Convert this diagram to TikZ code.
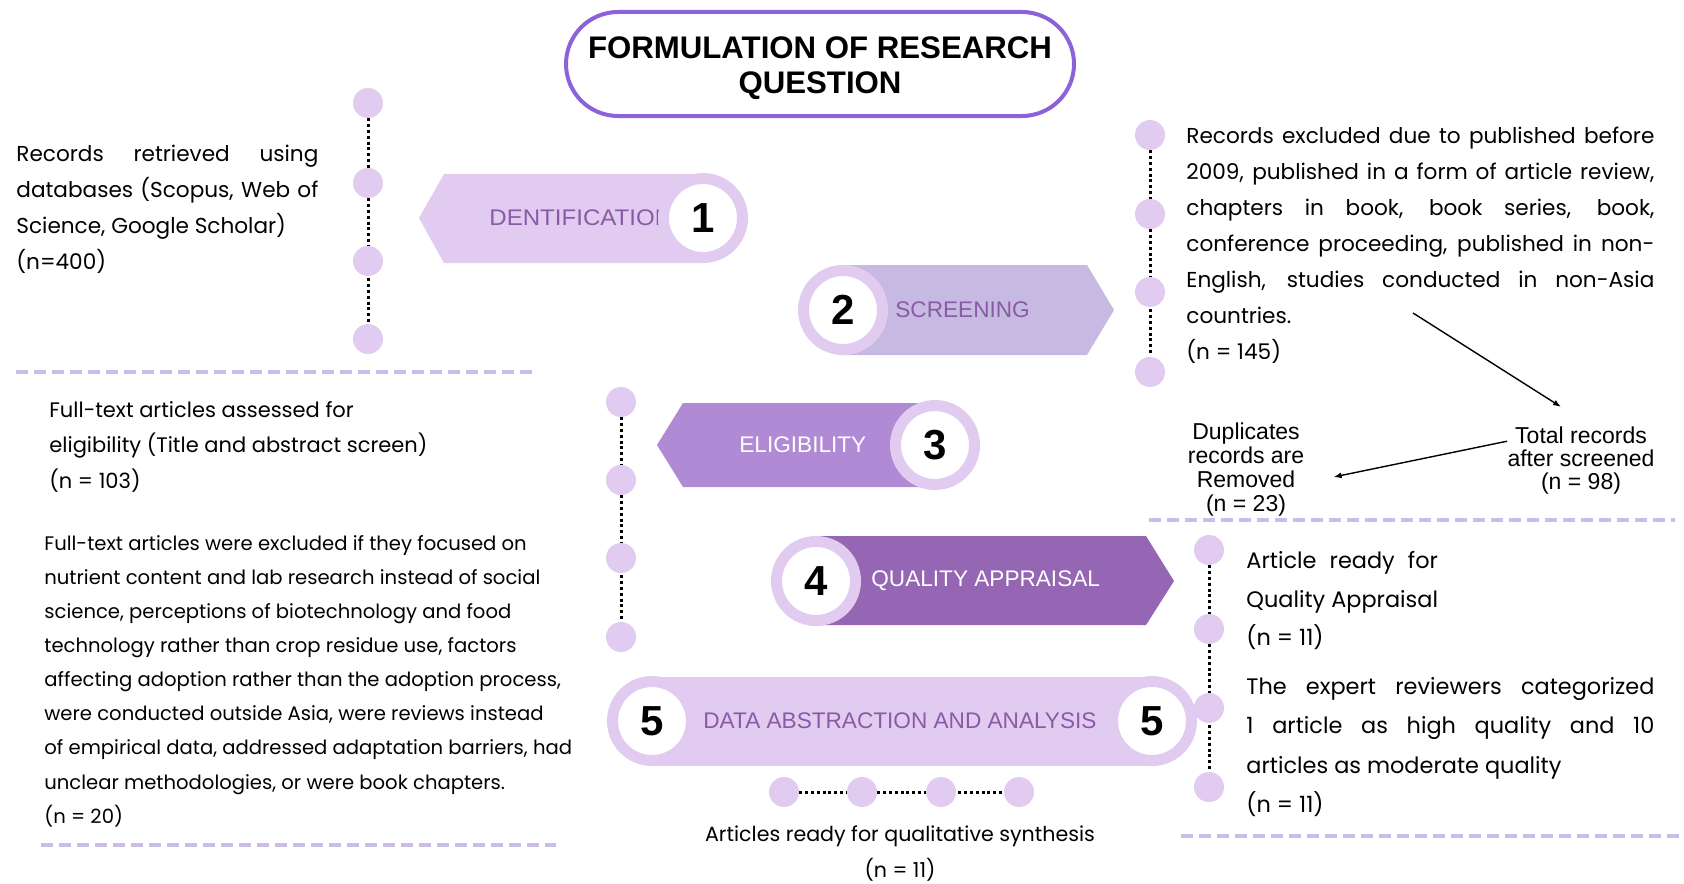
\documentclass[tikz,border=0pt]{standalone}
\usepackage{fontspec}
\usepackage{calc}
\setmainfont{Poppins}
\newfontfamily\labfont{Liberation Sans}
\newfontfamily\labwide[FakeStretch=1.065]{Liberation Sans}
\usetikzlibrary{positioning, arrows.meta}
\definecolor{lilac}{HTML}{E1CBF0}
\definecolor{haze}{HTML}{C7BAE2}
\definecolor{orchid}{HTML}{B18AD5}
\definecolor{plum}{HTML}{9566B4}
\definecolor{iris}{HTML}{8C62DA}
\definecolor{grape}{HTML}{8A5AA6}
\definecolor{dashc}{HTML}{CBBCE8}
% one line stretched to a fixed width
\newcommand{\jl}[2]{\makebox[#1][s]{#2}}

\begin{document}
\begin{tikzpicture}[
  x=0.5pt, y=-0.5pt,
  pill/.style={draw=iris, line width=2pt, fill=white, rounded corners=26pt,
               minimum width=254pt, minimum height=52pt},
  head/.style={align=center, inner sep=0pt,
               font=\labfont\bfseries\fontsize{15.6}{17.5}\selectfont},
  ring/.style={circle, draw=lilac, line width=5.5pt, fill=white,
               minimum size=39.5pt, inner sep=0pt,
               font=\labfont\bfseries\fontsize{21}{21}\selectfont},
  bead/.style={circle, fill=lilac, minimum size=15pt, inner sep=0pt},
  tie/.style={draw=black, line width=1.5pt, dash pattern=on 1.5pt off 1.4pt,
              shorten >=1pt, shorten <=1pt},
  lbl/.style={anchor=west, inner sep=0pt,
              font=\labfont\fontsize{11.3}{13}\selectfont},
  txt/.style={anchor=north west, inner sep=0pt, align=left},
  hint/.style={align=center, inner sep=0pt,
               font=\labfont\fontsize{11.5}{11.5}\selectfont},
  hr/.style={draw=dashc, line width=2pt, dash pattern=on 6pt off 3pt},
  arr/.style={draw=black, line width=0.7pt, -{Latex[length=4pt, width=3pt]}}]
  \useasboundingbox (0,0) rectangle (1684,883);

  % title
  \node[pill] (rq) at (820,64) {};
  \node[head] (rqt) at (820,68) {FORMULATION OF RESEARCH\\QUESTION};

  % step 1
  \fill[lilac] (419,218) -- (444,174) -- (703,174) -- (703,263) -- (444,263) -- cycle;
  \node[lbl, text=grape, font=\labwide\fontsize{11.3}{13}\selectfont] (idf) at (489,218)
    {DENTIFICATION};
  \node[ring] (s1) at (703,218) {1};

  % step 2
  \fill[haze] (843,265) -- (1087,265) -- (1114,310) -- (1087,355) -- (843,355) -- cycle;
  \node[lbl, text=grape] (scr) at (895,310) {SCREENING};
  \node[ring] (s2) at (843,310) {2};

  % step 3
  \fill[orchid] (657,445) -- (683,403) -- (935,403) -- (935,487) -- (683,487) -- cycle;
  \node[lbl, text=white] (elg) at (739,445) {ELIGIBILITY};
  \node[ring] (s3) at (935,445) {3};

  % step 4
  \fill[plum] (816,536) -- (1146,536) -- (1174,581) -- (1146,625) -- (816,625) -- cycle;
  \node[lbl, text=white] (qa) at (871,581) {QUALITY APPRAISAL};
  \node[ring] (s4) at (816,581) {4};

  % step 5
  \fill[lilac] (652,677) rectangle (1152,766);
  \node[lbl, text=grape] (daa) at (703,721) {DATA ABSTRACTION AND ANALYSIS};
  \node[ring] (s5a) at (652,721) {5};
  \node[ring] (s5b) at (1152,721) {5};

  % timelines
  \node[bead] (l1) at (368,103) {};
  \node[bead] (l2) at (368,183) {};
  \node[bead] (l3) at (368,261) {};
  \node[bead] (l4) at (368,339) {};
  \draw[tie] (l1) -- (l2) (l2) -- (l3) (l3) -- (l4);
  \node[bead] (m1) at (621,402) {};
  \node[bead] (m2) at (621,480) {};
  \node[bead] (m3) at (621,558) {};
  \node[bead] (m4) at (621,637) {};
  \draw[tie] (m1) -- (m2) (m2) -- (m3) (m3) -- (m4);
  \node[bead] (r1) at (1150,135) {};
  \node[bead] (r2) at (1150,214) {};
  \node[bead] (r3) at (1150,292) {};
  \node[bead] (r4) at (1150,372) {};
  \draw[tie] (r1) -- (r2) (r2) -- (r3) (r3) -- (r4);
  \node[bead] (q1) at (1209,550) {};
  \node[bead] (q2) at (1209,629) {};
  \node[bead] (q3) at (1209,708) {};
  \node[bead] (q4) at (1209,787) {};
  \draw[tie] (q1) -- (q2) (q2) -- (q3) (q3) -- (q4);
  \node[bead] (b1) at (784,792) {};
  \node[bead] (b2) at (862,792) {};
  \node[bead] (b3) at (941,792) {};
  \node[bead] (b4) at (1019,792) {};
  \draw[tie] (b1) -- (b2) (b2) -- (b3) (b3) -- (b4);

  % texts, left column
  \node[txt, font=\fontsize{10.8}{18}\selectfont] (recs) at (16,145)
    {\jl{151pt}{Records retrieved using}\\ \jl{151pt}{databases (Scopus, Web of}\\
     Science, Google Scholar)\\ (n=400)};
  \node[txt, font=\fontsize{10.5}{17.7}\selectfont] (full) at (49,401)
    {Full-text articles assessed for\\ eligibility (Title and abstract screen)\\ (n = 103)};
  \node[txt, font=\fontsize{9.8}{17.05}\selectfont] (excl) at (44,535)
    {Full-text articles were excluded if they focused on\\
     nutrient content and lab research instead of social\\
     science, perceptions of biotechnology and food\\
     technology rather than crop residue use, factors\\
     affecting adoption rather than the adoption process,\\
     were conducted outside Asia, were reviews instead\\
     of empirical data, addressed adaptation barriers, had\\
     unclear methodologies, or were book chapters.\\
     (n = 20)};

  % texts, right column
  \node[txt, font=\fontsize{10.8}{18}\selectfont] (drop) at (1186,127)
    {\jl{234pt}{Records excluded due to published before}\\
     \jl{234pt}{2009, published in a form of article review,}\\
     \jl{234pt}{chapters in book, book series, book,}\\
     \jl{234pt}{conference proceeding, published in non-}\\
     \jl{234pt}{English, studies conducted in non-Asia}\\
     countries.\\ (n = 145)};
  \node[hint] (tot) at (1581,461) {Total records\\after screened\\(n = 98)};
  \node[hint, font=\labfont\fontsize{11.5}{12}\selectfont] (dup) at (1246,470)
    {Duplicates\\records are\\Removed\\(n = 23)};
  \coordinate (cut) at (1413,313);
  \draw[arr] (cut) -- ([xshift=-10pt, yshift=10pt]tot.north);
  \draw[arr] (tot.165) -- ([xshift=14.5pt, yshift=-3.5pt]dup.east);
  \node[txt, font=\fontsize{11.2}{19.3}\selectfont] (ready) at (1246,551)
    {\jl{\widthof{Quality Appraisal}}{Article ready for}\\ Quality Appraisal\\ (n = 11)};
  \node[txt, font=\fontsize{11.2}{19.7}\selectfont] (rev) at (1246,677)
    {\jl{204pt}{The expert reviewers categorized}\\ \jl{204pt}{1 article as high quality and 10}\\
     articles as moderate quality\\ (n = 11)};
  \node[align=center, inner sep=0pt, anchor=north, font=\fontsize{10.3}{18}\selectfont]
    (syn) at (900,825) {Articles ready for qualitative synthesis\\(n = 11)};

  % dashed separators
  \draw[hr] (16,372) -- (532,372);
  \draw[hr] (1149,520) -- (1675,520);
  \draw[hr] (1181,836) -- (1681,836);
  \draw[hr] (41,845) -- (556,845);
\end{tikzpicture}
\end{document}
